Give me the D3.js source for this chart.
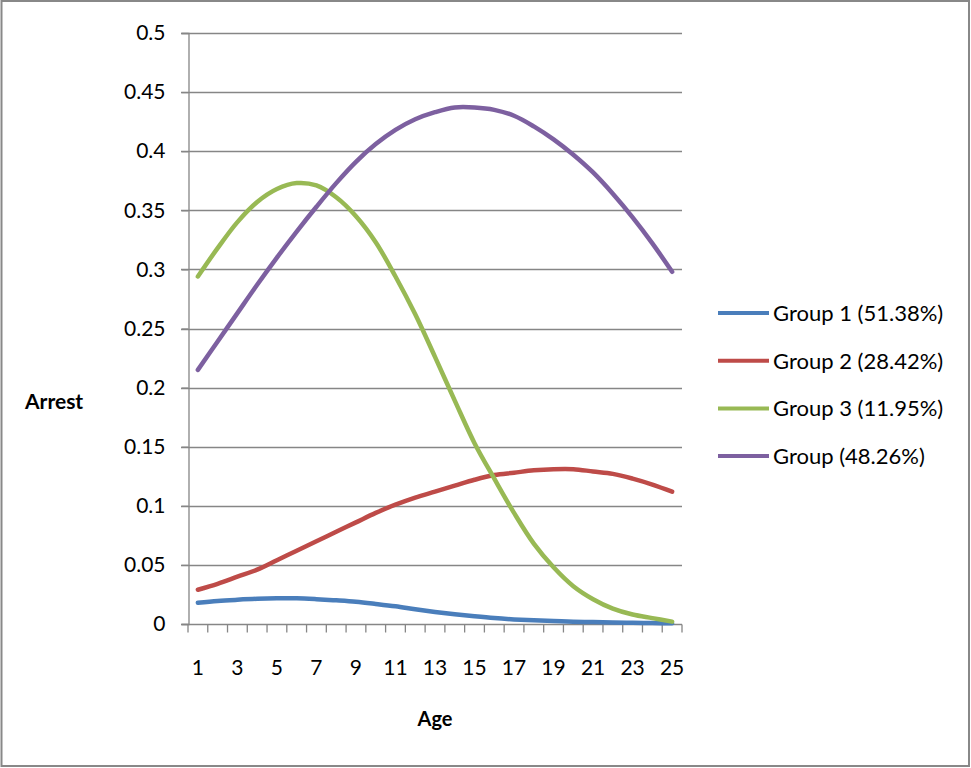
<!DOCTYPE html>
<html>
<head>
<meta charset="utf-8">
<script src="https://cdn.jsdelivr.net/npm/d3@7"></script>
<style>
  html, body { margin: 0; padding: 0; background: #fff; }
  svg { display: block; }
  text { font-family: Lato, "Open Sans", sans-serif; fill: #000; }
</style>
</head>
<body>
<svg id="chart" width="971" height="768"></svg>
<script>
const ages = d3.range(1, 26);
const xTickLabels = [1, 3, 5, 7, 9, 11, 13, 15, 17, 19, 21, 23, 25];
const yTicks = [0, 0.05, 0.1, 0.15, 0.2, 0.25, 0.3, 0.35, 0.4, 0.45, 0.5];
const seriesNames = ["Group 1 (51.38%)", "Group 2 (28.42%)", "Group 3 (11.95%)", "Group (48.26%)"];
const seriesColors = ["#4A7EBB", "#BE4B48", "#98B954", "#7D60A0"];

const group1 = [0.018, 0.0195, 0.0205, 0.0213, 0.0217, 0.0217, 0.021, 0.020, 0.0188, 0.017,
                0.015, 0.0125, 0.0102, 0.0082, 0.0065, 0.005, 0.0039, 0.0031, 0.0025, 0.002,
                0.0016, 0.0013, 0.001, 0.0008, 0.0006];
const group2 = [0.029, 0.034, 0.040, 0.046, 0.054, 0.062, 0.070, 0.078, 0.086, 0.094,
                0.101, 0.107, 0.112, 0.117, 0.122, 0.126, 0.128, 0.130, 0.131, 0.131,
                0.129, 0.127, 0.123, 0.118, 0.112];
const group3 = [0.294, 0.318, 0.340, 0.357, 0.368, 0.373, 0.371, 0.361, 0.345, 0.323,
                0.294, 0.262, 0.226, 0.189, 0.153, 0.123, 0.094, 0.068, 0.048, 0.032,
                0.021, 0.013, 0.008, 0.005, 0.002];
const group4 = [0.215, 0.239, 0.263, 0.287, 0.310, 0.332, 0.353, 0.373, 0.391, 0.406,
                0.418, 0.427, 0.433, 0.437, 0.437, 0.435, 0.430, 0.421, 0.410, 0.397,
                0.382, 0.364, 0.344, 0.322, 0.298];
const seriesValues = [group1, group2, group3, group4];

const svg = d3.select("#chart");
const gridColor = "#868686";

// outer border
svg.append("rect").attr("x", 1.5).attr("y", 1).attr("width", 967.5).attr("height", 765)
  .attr("fill", "none").attr("stroke", "#888").attr("stroke-width", 2);

const plotLeft = 188, plotRight = 682, plotTop = 33, plotBottom = 624;

const x = d3.scaleBand().domain(ages).range([plotLeft, plotRight]).paddingInner(0).paddingOuter(0);
const y = d3.scaleLinear().domain([0, 0.5]).range([plotBottom, plotTop]);

// gridlines
svg.append("g").selectAll("line").data(yTicks.filter(d => d > 0)).join("line")
  .attr("x1", plotLeft - 7).attr("x2", plotRight)
  .attr("y1", d => Math.round(y(d)) + 0.5).attr("y2", d => Math.round(y(d)) + 0.5)
  .attr("stroke", gridColor).attr("stroke-width", 1.3);

// y axis
const yAxis = svg.append("g").attr("transform", `translate(${plotLeft + 0.5},0)`)
  .call(d3.axisLeft(y).tickValues(yTicks).tickSize(7).tickPadding(16).tickFormat(d => d3.format("")(+d.toFixed(2))));
yAxis.select(".domain").attr("stroke", gridColor).attr("stroke-width", 1.3);
yAxis.selectAll(".tick line").attr("stroke", gridColor).attr("stroke-width", 1.3);
yAxis.selectAll(".tick text").attr("font-size", 21).attr("font-family", "Lato, sans-serif").attr("fill", "#000");

// x axis line + ticks at category boundaries
const xg = svg.append("g").attr("transform", `translate(0,${plotBottom + 0.5})`);
xg.append("line").attr("x1", plotLeft - 7).attr("x2", plotRight)
  .attr("stroke", gridColor).attr("stroke-width", 1.3);
const boundaries = ages.map(a => x(a)).concat([x(25) + x.bandwidth()]);
xg.selectAll("line.tk").data(boundaries).join("line").attr("class", "tk")
  .attr("x1", d => d).attr("x2", d => d).attr("y1", 0).attr("y2", 8)
  .attr("stroke", gridColor).attr("stroke-width", 1.3);
xg.selectAll("text").data(xTickLabels).join("text")
  .attr("x", d => x(d) + x.bandwidth() / 2).attr("y", 50)
  .attr("text-anchor", "middle").attr("font-size", 21).text(d => d);

// lines
const line = d3.line()
  .x((d, i) => x(ages[i]) + x.bandwidth() / 2)
  .y(d => y(d))
  .curve(d3.curveCatmullRom.alpha(0.5));
svg.append("g").selectAll("path").data(seriesValues).join("path")
  .attr("d", d => line(d))
  .attr("fill", "none")
  .attr("stroke", (d, i) => seriesColors[i])
  .attr("stroke-width", 4.5)
  .attr("stroke-linecap", "round")
  .attr("stroke-linejoin", "round");

// axis titles
svg.append("text").attr("x", 25).attr("y", 409).attr("font-size", 21).attr("font-weight", "bold").text("Arrest");
svg.append("text").attr("x", 435).attr("y", 726).attr("text-anchor", "middle").attr("font-size", 20).attr("font-weight", "bold").text("Age");

// legend
const legend = svg.append("g");
const lg = legend.selectAll("g").data(seriesNames).join("g")
  .attr("transform", (d, i) => `translate(718,${313 + i * 47.7})`);
lg.append("line").attr("x1", 0).attr("x2", 51).attr("y1", 0).attr("y2", 0)
  .attr("stroke", (d, i) => seriesColors[i]).attr("stroke-width", 4);
lg.append("text").attr("x", 55).attr("y", 8).attr("font-size", 22).text(d => d);
</script>
</body>
</html>
